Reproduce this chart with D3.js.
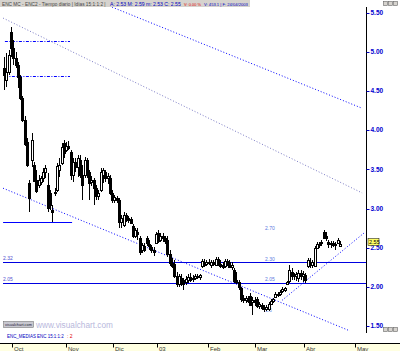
<!DOCTYPE html>
<html>
<head>
<meta charset="utf-8">
<script src="https://cdn.jsdelivr.net/npm/d3@7"></script>
<style>
body { margin: 0; background: #fff; }
svg { display: block; font-family: "Liberation Sans", Arial, sans-serif; }
</style>
</head>
<body>
<svg id="chart" width="400" height="351"></svg>
<script>
// daily candles, 26/09/2002 .. 24/04/2003 (index = trading day)
var opens = [
  4.79, 4.64, 4.74, 5.25, 5.05, 4.92, 4.83, 4.68, 4.41, 4.13,
  3.85, 3.33, 3.62, 3.56, 3.36, 3.30, 3.34, 3.39, 3.47, 3.30,
  3.20, 2.98, 3.20, 3.24, 3.49, 3.58, 3.84, 3.75, 3.80, 3.72,
  3.43, 3.59, 3.54, 3.62, 3.43, 3.43, 3.62, 3.47, 3.33, 3.36,
  3.26, 3.16, 3.24, 3.43, 3.47, 3.39, 3.39, 3.20, 3.11, 3.14,
  3.11, 2.83, 2.79, 2.92, 2.88, 2.87, 2.78, 2.65, 2.70, 2.63,
  2.47, 2.52, 2.63, 2.55, 2.51, 2.47, 2.57, 2.69, 2.60, 2.65,
  2.63, 2.60, 2.42, 2.31, 2.29, 2.14, 2.04, 2.11, 2.09, 2.06,
  2.09, 2.13, 2.10, 2.11, 2.14, 2.13, 2.26, 2.31, 2.29, 2.32,
  2.28, 2.32, 2.28, 2.36, 2.29, 2.28, 2.26, 2.33, 2.32, 2.26,
  2.22, 2.09, 2.06, 1.99, 1.86, 1.83, 1.85, 1.89, 1.80, 1.83,
  1.85, 1.76, 1.77, 1.73, 1.72, 1.71, 1.78, 1.82, 1.87, 1.91,
  1.91, 1.94, 1.96, 2.04, 2.08, 2.19, 2.14, 2.14, 2.11, 2.18,
  2.14, 2.15, 2.26, 2.32, 2.28, 2.27, 2.50, 2.55, 2.56, 2.70,
  2.65, 2.57, 2.55, 2.56, 2.54, 2.56, 2.53
];
var highs = [
  4.93, 4.99, 5.02, 5.32, 5.15, 5.00, 4.87, 4.70, 4.44, 4.18,
  3.90, 3.36, 3.96, 3.59, 3.49, 3.43, 3.42, 3.52, 3.56, 3.45,
  3.24, 3.05, 3.26, 3.58, 3.65, 3.84, 3.88, 3.85, 3.86, 3.75,
  3.65, 3.65, 3.68, 3.68, 3.56, 3.66, 3.65, 3.49, 3.42, 3.39,
  3.30, 3.24, 3.52, 3.52, 3.49, 3.45, 3.43, 3.24, 3.17, 3.16,
  3.14, 2.92, 2.96, 2.94, 2.91, 2.89, 2.80, 2.75, 2.75, 2.65,
  2.56, 2.56, 2.65, 2.60, 2.54, 2.51, 2.70, 2.73, 2.69, 2.69,
  2.65, 2.65, 2.47, 2.37, 2.34, 2.19, 2.17, 2.17, 2.11, 2.14,
  2.17, 2.18, 2.15, 2.17, 2.17, 2.17, 2.36, 2.36, 2.34, 2.36,
  2.34, 2.34, 2.38, 2.38, 2.34, 2.32, 2.36, 2.36, 2.34, 2.32,
  2.24, 2.19, 2.09, 2.00, 1.90, 1.89, 1.89, 1.92, 1.87, 1.87,
  1.87, 1.81, 1.80, 1.77, 1.77, 1.81, 1.85, 1.86, 1.94, 1.94,
  1.96, 2.00, 2.00, 2.08, 2.28, 2.24, 2.18, 2.19, 2.22, 2.22,
  2.20, 2.18, 2.37, 2.37, 2.34, 2.52, 2.57, 2.57, 2.60, 2.73,
  2.70, 2.60, 2.59, 2.59, 2.57, 2.62, 2.59
];
var lows = [
  4.51, 4.55, 4.70, 4.93, 4.83, 4.79, 4.54, 4.39, 4.10, 3.80,
  3.53, 2.96, 3.53, 3.34, 3.20, 3.26, 3.30, 3.34, 3.39, 2.96,
  2.98, 2.83, 3.16, 3.21, 3.40, 3.56, 3.65, 3.72, 3.75, 3.36,
  3.34, 3.47, 3.40, 3.39, 3.11, 3.39, 3.39, 3.11, 3.29, 3.05,
  3.11, 3.11, 3.21, 3.33, 3.34, 3.31, 3.17, 3.07, 3.07, 3.07,
  2.75, 2.75, 2.77, 2.83, 2.82, 2.80, 2.63, 2.63, 2.60, 2.41,
  2.43, 2.45, 2.52, 2.47, 2.43, 2.40, 2.55, 2.56, 2.57, 2.57,
  2.55, 2.38, 2.27, 2.24, 2.11, 2.00, 2.00, 2.01, 1.96, 2.03,
  2.05, 2.06, 2.06, 2.09, 2.10, 2.09, 2.24, 2.26, 2.27, 2.28,
  2.24, 2.27, 2.27, 2.27, 2.24, 2.23, 2.24, 2.27, 2.24, 2.22,
  2.05, 2.04, 1.96, 1.81, 1.80, 1.80, 1.80, 1.76, 1.64, 1.76,
  1.73, 1.72, 1.71, 1.68, 1.69, 1.69, 1.77, 1.80, 1.86, 1.87,
  1.89, 1.92, 1.94, 2.03, 2.05, 2.09, 2.09, 2.08, 2.06, 2.09,
  2.06, 2.05, 2.24, 2.24, 2.24, 2.26, 2.48, 2.50, 2.52, 2.61,
  2.59, 2.50, 2.50, 2.51, 2.47, 2.55, 2.53
];
var closes = [
  4.70, 4.74, 4.96, 5.05, 4.92, 4.83, 4.68, 4.41, 4.13, 3.82,
  3.56, 3.14, 3.88, 3.36, 3.22, 3.36, 3.39, 3.47, 3.52, 3.01,
  3.05, 2.96, 3.21, 3.54, 3.56, 3.79, 3.71, 3.80, 3.77, 3.43,
  3.59, 3.52, 3.65, 3.43, 3.30, 3.62, 3.47, 3.33, 3.36, 3.26,
  3.16, 3.20, 3.47, 3.49, 3.39, 3.42, 3.20, 3.11, 3.15, 3.11,
  2.83, 2.88, 2.92, 2.88, 2.85, 2.82, 2.65, 2.73, 2.68, 2.45,
  2.54, 2.47, 2.56, 2.52, 2.47, 2.45, 2.68, 2.59, 2.65, 2.63,
  2.59, 2.42, 2.31, 2.27, 2.14, 2.04, 2.14, 2.09, 2.04, 2.10,
  2.13, 2.09, 2.11, 2.14, 2.13, 2.15, 2.33, 2.29, 2.32, 2.31,
  2.32, 2.29, 2.36, 2.29, 2.27, 2.26, 2.33, 2.31, 2.26, 2.28,
  2.08, 2.06, 1.99, 1.85, 1.83, 1.86, 1.82, 1.78, 1.83, 1.80,
  1.76, 1.78, 1.73, 1.72, 1.74, 1.78, 1.82, 1.85, 1.91, 1.90,
  1.94, 1.97, 1.99, 2.06, 2.22, 2.14, 2.15, 2.17, 2.18, 2.14,
  2.17, 2.09, 2.34, 2.28, 2.32, 2.50, 2.55, 2.54, 2.57, 2.62,
  2.62, 2.55, 2.56, 2.54, 2.55, 2.60, 2.55
];

var monthNames = ["Oct", "Nov", "Dic", "03", "Feb", "Mar", "Abr", "May"];
var monthStarts = [3.5, 27, 47.4, 66.5, 88.7, 109.1, 130.4, 152.6];
var priceTicks = [1.5, 2, 2.5, 3, 3.5, 4, 4.5, 5, 5.5];

// drawn studies, endpoints as [day index, price]
var upperTrend = [[47, 5.57], [155.7, 4.28]];
var middleTrend = [[-0.4, 5.43], [155.7, 3.20]];
var lowerTrend = [[-0.4, 3.26], [150.4, 1.44]];
var riseTrend = [[120.9, 1.83], [157, 2.70]];
var topLevels = [5.14, 4.69];
var topLevelSpan = [0.4, 28.7];
var supportLevel = 2.83;
var supportSpan = [-0.4, 29.6];
var longLevels = [2.32, 2.05];
var retraceLevels = [2.70, 2.30, 2.05];
var lowMark = [113, 1.64];

var fmt = d3.format(".2f");
var svg = d3.select("#chart");
var axisX = 366.5;

var x = d3.scaleLinear().domain([0, 146]).range([4, 339.8]);
var y = d3.scaleLinear().domain([1.5, 5.5]).range([326.2, 12.6]);
function px(i) { return Math.round(x(i)) + 0.5; }

// shrink a label's font until it fits the given width
function fitText(tx, ty, w, size, color, str) {
  var t = svg.append("text").attr("x", tx).attr("y", ty).attr("font-size", size)
    .attr("fill", color).text(str);
  var len = t.node().getComputedTextLength();
  if (len > w) t.attr("font-size", size * w / len);
  return t;
}

svg.append("defs").append("clipPath").attr("id", "plot")
  .append("rect").attr("x", 0).attr("y", 7).attr("width", 366).attr("height", 336);

// header bar
svg.append("rect").attr("x", 0).attr("y", 0).attr("width", 250).attr("height", 7).attr("fill", "#d6d3ce");
var last = closes.length - 1;
fitText(2, 5.8, 104, 6, "#444", "ENC MC - ENC2 - Tiempo diario | Idías 15:1:1:2 |");
fitText(110, 5.8, 71, 6, "#0000c0", "A: " + fmt(opens[last]) + " M: " + fmt(highs[last]) + " m: " + fmt(lows[last]) + " C: " + fmt(closes[last]));
fitText(184, 5.8, 17, 6, "#e00000", "V: 0.00 %");
fitText(204, 5.8, 44, 6, "#0000c0", "V: 453.1 | F: 24/04/2003");

// window buttons
[383, 388, 393].forEach(function(bx) {
  svg.append("rect").attr("x", bx + 0.5).attr("y", 1.5).attr("width", 4).attr("height", 4)
    .attr("fill", "#d6d3ce").attr("stroke", "#666").attr("stroke-width", 0.6);
  svg.append("rect").attr("x", bx + 0.5).attr("y", 327.5).attr("width", 4).attr("height", 4)
    .attr("fill", "#d6d3ce").attr("stroke", "#666").attr("stroke-width", 0.6);
});

var plot = svg.append("g").attr("clip-path", "url(#plot)");

function trend(pts, color, dash) {
  plot.append("line")
    .attr("x1", x(pts[0][0])).attr("y1", y(pts[0][1]))
    .attr("x2", x(pts[1][0])).attr("y2", y(pts[1][1]))
    .attr("stroke", color).attr("stroke-width", 1).attr("stroke-dasharray", dash);
}
trend(upperTrend, "#0000ff", "1,2");
trend(middleTrend, "#7a7ac4", "1,2");
trend(lowerTrend, "#0000ff", "1,2");
trend(riseTrend, "#0000ff", "1,2");

topLevels.forEach(function(v) {
  plot.append("line").attr("x1", x(topLevelSpan[0])).attr("x2", x(topLevelSpan[1]))
    .attr("y1", Math.round(y(v)) + 0.5).attr("y2", Math.round(y(v)) + 0.5)
    .attr("stroke", "#0000ff").attr("stroke-dasharray", "3,1.5,1,1.5");
});
plot.append("line").attr("x1", x(supportSpan[0])).attr("x2", x(supportSpan[1]))
  .attr("y1", Math.round(y(supportLevel)) + 0.5).attr("y2", Math.round(y(supportLevel)) + 0.5)
  .attr("stroke", "#0000ff").attr("stroke-width", 1.2);

longLevels.forEach(function(v) {
  var ly = Math.round(y(v)) + 0.5;
  plot.append("line").attr("x1", 3).attr("x2", axisX).attr("y1", ly).attr("y2", ly)
    .attr("stroke", "#0000e0").attr("stroke-width", 1.2);
  plot.append("text").attr("x", 3).attr("y", ly - 2.5).attr("font-size", 5)
    .attr("fill", "#5050d0").text(fmt(v));
});

retraceLevels.forEach(function(v) {
  plot.append("text").attr("x", x(113.5)).attr("y", y(v) - 2).attr("font-size", 5)
    .attr("fill", "#5a78e0").text(fmt(v));
});
plot.append("text").attr("x", x(lowMark[0]) + 1).attr("y", y(lowMark[1]) - 3).attr("font-size", 5)
  .attr("fill", "#6a8ae8").text(fmt(lowMark[1]).slice(0, 3));

// candles
var idx = d3.range(closes.length);
plot.selectAll("line.wick").data(idx).join("line").attr("class", "wick")
  .attr("x1", px).attr("x2", px)
  .attr("y1", function(i) { return y(highs[i]); })
  .attr("y2", function(i) { return y(lows[i]); })
  .attr("stroke", "#000").attr("stroke-width", 1).attr("shape-rendering", "crispEdges");
plot.selectAll("rect.body").data(idx).join("rect").attr("class", "body")
  .attr("x", function(i) { return px(i) - 1; })
  .attr("width", 2)
  .attr("y", function(i) { return Math.round(y(Math.max(opens[i], closes[i]))) + 0.5; })
  .attr("height", function(i) { return Math.max(1, Math.round(Math.abs(y(opens[i]) - y(closes[i])))); })
  .attr("fill", function(i) { return closes[i] >= opens[i] ? "#fff" : "#000"; })
  .attr("stroke", "#000").attr("stroke-width", 1).attr("shape-rendering", "crispEdges");

// price axis
svg.append("line").attr("x1", axisX).attr("x2", axisX).attr("y1", 7).attr("y2", 333)
  .attr("stroke", "#000").attr("stroke-width", 1);
var ticks = svg.append("g").selectAll("g").data(priceTicks).join("g");
ticks.append("line").attr("x1", axisX).attr("x2", axisX + 3)
  .attr("y1", function(d) { return Math.round(y(d)) + 0.5; })
  .attr("y2", function(d) { return Math.round(y(d)) + 0.5; })
  .attr("stroke", "#0000c0");
ticks.append("text").attr("x", axisX + 4).attr("y", function(d) { return y(d) + 2.2; })
  .attr("font-size", 6.5).attr("font-weight", "bold").attr("fill", "#0000d0")
  .text(function(d) { return fmt(d); });

var lastY = y(closes[last]);
svg.append("rect").attr("x", axisX + 1.5).attr("y", Math.round(lastY) - 5.5).attr("width", 11).attr("height", 7)
  .attr("fill", "#ffff66").attr("stroke", "#000").attr("stroke-width", 0.5);
svg.append("text").attr("x", axisX + 2.5).attr("y", lastY + 0.3).attr("font-size", 5.5)
  .attr("fill", "#000").text(fmt(closes[last]));

// footer: logo, watermark, study legend
svg.append("rect").attr("x", 3.5).attr("y", 321.5).attr("width", 30).attr("height", 6)
  .attr("fill", "#c8c8d0").attr("stroke", "#666").attr("stroke-width", 0.5);
fitText(5, 326.3, 27, 4, "#223", "visualchart.com");
fitText(36, 328, 77, 8.5, "#b8b8dc", "www.visualchart.com");
fitText(7, 338, 57, 5, "#0000c0", "ENC_MEDIAS ENC 15:1:1:2");
fitText(67, 338, 8, 5, "#e00000", ": 2");

// time axis
svg.append("rect").attr("x", 0).attr("y", 343).attr("width", 400).attr("height", 8).attr("fill", "#ffffe1");
svg.append("line").attr("x1", 0).attr("x2", 400).attr("y1", 343.5).attr("y2", 343.5).attr("stroke", "#000");
var months = svg.append("g").selectAll("g").data(monthStarts).join("g");
months.append("line").attr("x1", px).attr("x2", px).attr("y1", 343).attr("y2", 347.5)
  .attr("stroke", "#000");
months.append("text").attr("x", function(d) { return px(d) + 1.5; }).attr("y", 350.5)
  .attr("font-size", 6).attr("fill", "#333")
  .text(function(d, i) { return monthNames[i]; });
</script>
</body>
</html>
